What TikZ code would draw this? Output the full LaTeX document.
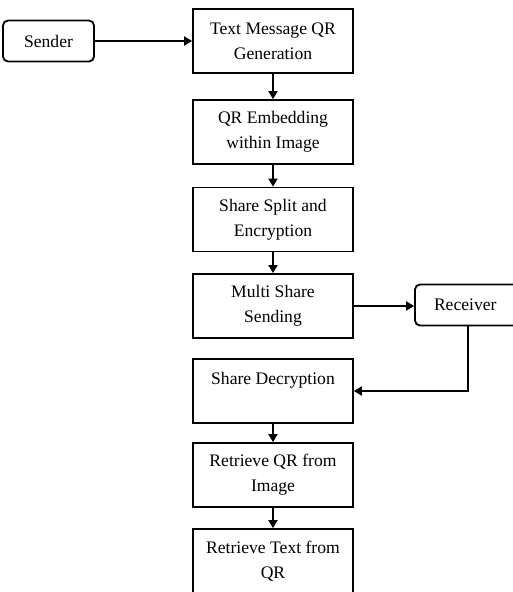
\documentclass[tikz,border=0pt]{standalone}
\usepackage{fontspec}
\setmainfont{Liberation Serif}
\usetikzlibrary{arrows.meta}

\begin{document}
\begin{tikzpicture}[x=1pt, y=-1pt,
        line width=1.8pt,
        every node/.style = {font=\fontsize{17.6}{25}\selectfont},
        stage/.style = {draw,
            align=center,
            minimum width=160pt,
            minimum height=64pt,
            inner sep=0pt
        },
        party/.style = {draw,
            rounded corners=5pt,
            minimum height=41pt,
            inner sep=0pt
        },
        flow/.style = {-{Triangle[length=8pt,width=9pt]}}]

    \useasboundingbox (0,0) rectangle (512,592);

    % Sender
    \node [party, minimum width=91pt] (sender) at (48.5,41) {Sender};

    % Stages of the scheme
    \node [stage] (qrgen) at (273,41) {Text Message QR\\Generation};
    \node [stage] (embed) at (273,132) {QR Embedding\\within Image};
    \node [stage] (split) at (273,219.5) {Share Split and\\Encryption};
    \node [stage] (send) at (273,306) {Multi Share\\Sending};
    \node [stage] (decrypt) at (273,391) {Share Decryption\\\mbox{}};
    \node [stage] (getqr) at (273,475) {Retrieve QR from\\Image};
    \node [stage] (gettext) at (273,561) {Retrieve Text from\\QR};

    % Receiver
    \node [party, minimum width=106pt, text width=100pt, align=left,
        inner xsep=3pt] (receiver) at (468,305) {\hspace{16pt}Receiver};

    % Arrows
    \draw [flow] (sender) -- (qrgen);
    \draw [flow] (qrgen) -- (embed);
    \draw [flow] (embed) -- (split);
    \draw [flow] (split) -- (send);
    \draw [flow] (send) -- (send -| receiver.west);
    \draw [flow] (receiver.south) |- (decrypt.east);
    \draw [flow] (decrypt) -- (getqr);
    \draw [flow] (getqr) -- (gettext);

\end{tikzpicture}
\end{document}
